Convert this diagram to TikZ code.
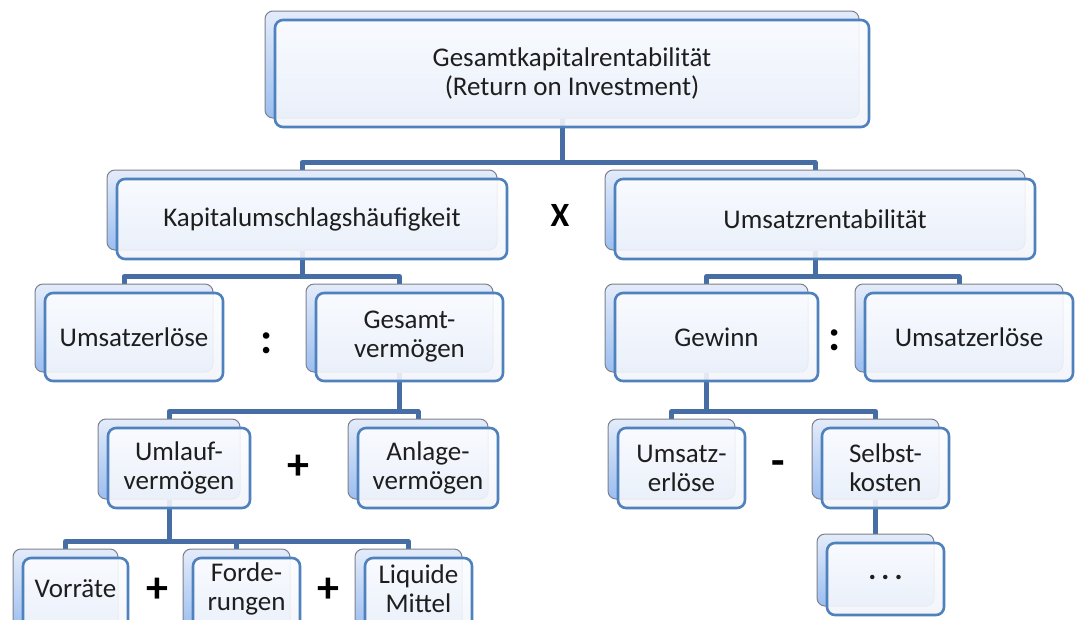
\documentclass[tikz,border=0pt]{standalone}
\usepackage{fontspec}
\setmainfont{Carlito}
\usetikzlibrary{backgrounds}

\definecolor{connblue}{RGB}{70,110,165}
\definecolor{frameblue}{RGB}{79,129,189}
\definecolor{frontTop}{RGB}{252,253,255}
\definecolor{frontBot}{RGB}{242,245,251}
\definecolor{backTop}{RGB}{228,236,250}
\definecolor{backBot}{RGB}{155,190,240}
\definecolor{backLine}{RGB}{125,128,140}
\definecolor{inktext}{RGB}{30,30,30}

\tikzset{
  frontbox/.style={rectangle, rounded corners=8pt, draw=frameblue, line width=2.6pt,
    top color=frontTop, bottom color=frontBot, fill opacity=0.9, text opacity=1,
    text=inktext, align=center, inner sep=0pt,
    font=\fontsize{27}{29}\selectfont},
  backbox/.style={rectangle, rounded corners=8pt, draw=backLine, line width=1pt,
    top color=backTop, bottom color=backBot, inner sep=0pt},
  conn/.style={draw=connblue, line width=5pt, line join=round},
  opsign/.style={inner sep=0pt, text=black, font=\fontsize{44}{44}\selectfont\bfseries},
  timessign/.style={inner sep=0pt, text=black, font=\fontsize{34}{34}\selectfont\bfseries}
}

% one block: back plate shifted up-left, front box with the label
% #1 options, #2 name, #3..#6 front box corners (x1,y1,x2,y2), #7 label
\newcommand\blk[7][]{%
  \pgfmathsetmacro\blkW{#5-#3}%
  \pgfmathsetmacro\blkH{#6-#4}%
  \pgfmathsetmacro\blkX{(#3+#5)/2}%
  \pgfmathsetmacro\blkY{(#4+#6)/2}%
  \node[backbox, minimum width=\blkW pt, minimum height=\blkH pt] (#2B) at (\blkX-10,\blkY-9) {};
  \node[frontbox, minimum width=\blkW pt, minimum height=\blkH pt, #1] (#2) at (\blkX,\blkY) {#7};
}

\begin{document}
\begin{tikzpicture}[x=1pt, y=-1pt]
  \useasboundingbox (0,0) rectangle (1075,619);
  \clip (0,0) rectangle (1075,619);

  % blocks
  \blk{root}{275}{20}{869}{127}{Gesamtkapitalrentabilität\\(Return on Investment)}
  \blk{kap}{117}{179}{507}{259}{Kapitalumschlagshäufigkeit}
  \blk{urent}{615}{179}{1035}{259}{Umsatzrentabilität}
  \blk{ueA}{45}{293}{223}{381}{Umsatzerlöse}
  \blk{gv}{316}{293}{503}{381}{Gesamt-\\vermögen}
  \blk{gew}{615}{293}{818}{381}{Gewinn}
  \blk{ueB}{865}{293}{1073}{381}{Umsatzerlöse}
  \blk{ulv}{108}{428}{250}{508}{Umlauf-\\vermögen}
  \blk{alv}{358}{428}{498}{508}{Anlage-\\vermögen}
  \blk{ueC}{618}{428}{745}{508}{Umsatz-\\erlöse}
  \blk{sk}{822}{428}{949}{508}{Selbst-\\kosten}
  \blk[text depth=20pt]{vor}{23}{558}{128}{640}{Vorräte}
  \blk[text depth=25pt]{ford}{193}{558}{300}{640}{Forde-\\rungen}
  \blk[text depth=20pt]{liq}{365}{558}{472}{640}{Liquide\\Mittel}
  \blk[text depth=4pt]{more}{827}{543}{944}{615}{\fontsize{30}{30}\selectfont\textbf{.\hspace{5pt}.\hspace{5pt}.}}

  % operators between siblings
  \node[timessign] (opX) at (560,215) {X};
  \node[opsign] (opDivA) at (267,343) {:};
  \node[opsign] (opDivB) at (835,340) {:};
  \node[opsign] (opPlusA) at (298,467) {+};
  \node[opsign] (opMinus) at (778,468) {-};
  \node[opsign] (opPlusB) at (157,590) {+};
  \node[opsign] (opPlusC) at (328,590) {+};

  % white page and tree connectors, behind all blocks
  \begin{scope}[on background layer]
    \fill[white] (0,0) rectangle (1075,619);
    \foreach \p/\c in {root/kap, root/urent, kap/ueA, kap/gv, urent/gew, urent/ueB,
                       gv/ulv, gv/alv, gew/ueC, gew/sk, ulv/vor, ulv/ford, ulv/liq}{
      \draw[conn] (\p B.south) |- ([yshift=7pt]\c B.north) -- (\c B.north);
    }
    \draw[conn] (skB.south) -- (skB.south |- moreB.north);
  \end{scope}
\end{tikzpicture}
\end{document}
